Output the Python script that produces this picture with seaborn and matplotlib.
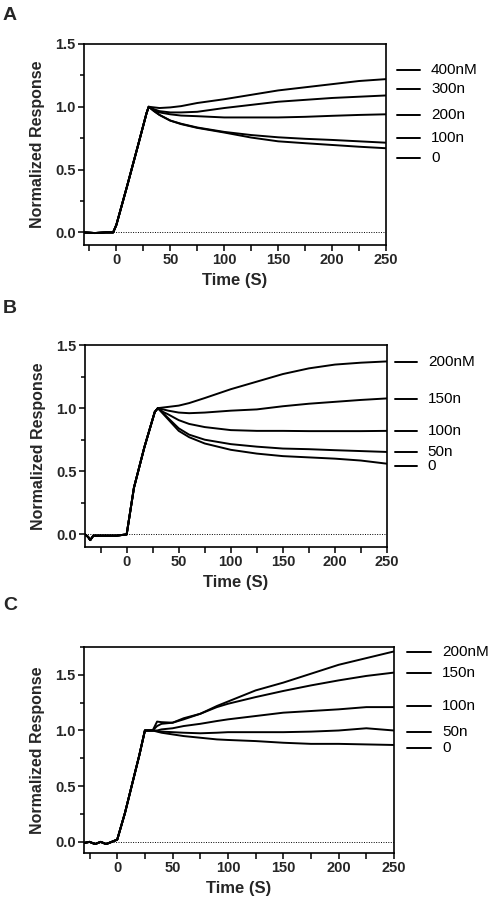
import numpy as np
import pandas as pd
import matplotlib.pyplot as plt
import matplotlib.transforms as mtransforms
from matplotlib.ticker import MultipleLocator
import seaborn as sns

sns.set_theme(style="ticks")
plt.rcParams['font.family'] = ['Liberation Sans', 'DejaVu Sans']

# ---------------- Panel A ----------------
A_labels = ['400nM', '300n', '200n', '100n', '0']
A_label_y = [1.29, 1.145, 0.935, 0.75, 0.59]
A_t_rise = [-30, -20, -10, -3, 0, 10, 20, 28, 30]
A_rise = [0.0, -0.005, 0.0, 0.0, 0.06, 0.37, 0.69, 0.95, 1.0]
A_t_diss = [30, 35, 40, 50, 60, 75, 100, 125, 150, 175, 200, 225, 250]
A_diss = {
    '400nM': [1.0, 0.995, 0.99, 0.995, 1.005, 1.03, 1.06, 1.095, 1.13, 1.155, 1.18, 1.205, 1.22],
    '300n': [1.0, 0.98, 0.965, 0.955, 0.955, 0.96, 0.99, 1.015, 1.04, 1.055, 1.07, 1.08, 1.09],
    '200n': [1.0, 0.97, 0.955, 0.94, 0.93, 0.925, 0.915, 0.915, 0.915, 0.92, 0.928, 0.935, 0.94],
    '100n': [1.0, 0.965, 0.935, 0.89, 0.865, 0.835, 0.80, 0.775, 0.757, 0.745, 0.736, 0.725, 0.714],
    '0': [1.0, 0.965, 0.935, 0.89, 0.862, 0.832, 0.795, 0.755, 0.725, 0.71, 0.696, 0.682, 0.67],
}

# ---------------- Panel B ----------------
B_labels = ['200nM', '150n', '100n', '50n', '0']
B_label_y = [1.365, 1.07, 0.817, 0.655, 0.545]
B_t_rise = [-40, -37, -35, -32, -25, -10, 0, 7, 17, 27, 30]
B_rise = [0.0, -0.02, -0.045, -0.01, -0.01, -0.01, 0.0, 0.37, 0.69, 0.97, 1.0]
B_t_diss = [30, 35, 40, 50, 60, 75, 100, 125, 150, 175, 200, 225, 250]
B_diss = {
    '200nM': [1.0, 1.005, 1.01, 1.02, 1.04, 1.08, 1.15, 1.21, 1.27, 1.315, 1.345, 1.36, 1.37],
    '150n': [1.0, 0.99, 0.98, 0.965, 0.96, 0.965, 0.98, 0.99, 1.015, 1.035, 1.05, 1.065, 1.077],
    '100n': [1.0, 0.97, 0.95, 0.905, 0.875, 0.85, 0.826, 0.82, 0.82, 0.818, 0.818, 0.818, 0.82],
    '50n': [1.0, 0.96, 0.92, 0.84, 0.79, 0.75, 0.715, 0.695, 0.68, 0.675, 0.667, 0.66, 0.653],
    '0': [1.0, 0.955, 0.91, 0.82, 0.77, 0.72, 0.67, 0.64, 0.62, 0.61, 0.60, 0.585, 0.56],
}

# ---------------- Panel C ----------------
C_labels = ['200nM', '150n', '100n', '50n', '0']
C_label_y = [1.705, 1.52, 1.22, 0.99, 0.84]
C_t_rise = [-30, -25, -20, -15, -10, -5, 0, 7, 15, 20, 25, 32]
C_rise = [-0.01, 0.0, -0.02, 0.0, -0.02, 0.0, 0.02, 0.26, 0.58, 0.78, 1.0, 1.0]
C_t_diss = [32, 36, 40, 50, 60, 75, 90, 100, 125, 150, 175, 200, 225, 250]
C_diss = {
    '200nM': [1.0, 1.08, 1.075, 1.07, 1.11, 1.15, 1.22, 1.26, 1.36, 1.43, 1.51, 1.59, 1.65, 1.71],
    '150n': [1.0, 1.04, 1.06, 1.07, 1.10, 1.15, 1.21, 1.24, 1.30, 1.355, 1.405, 1.45, 1.49, 1.52],
    '100n': [1.0, 1.0, 1.01, 1.02, 1.04, 1.06, 1.085, 1.10, 1.13, 1.16, 1.175, 1.19, 1.21, 1.21],
    '50n': [1.0, 0.995, 0.99, 0.985, 0.98, 0.975, 0.98, 0.985, 0.985, 0.985, 0.99, 1.0, 1.02, 1.0],
    '0': [1.0, 0.99, 0.98, 0.965, 0.95, 0.935, 0.92, 0.915, 0.905, 0.89, 0.88, 0.88, 0.875, 0.87],
}


def build_df(labels, t_rise, rise, t_diss, diss):
    rows = []
    for lab in labels:
        for t, v in zip(t_rise, rise):
            rows.append((lab, t, v))
        for t, v in zip(t_diss[1:], diss[lab][1:]):
            rows.append((lab, t, v))
    return pd.DataFrame(rows, columns=['conc', 'time', 'resp'])


fig = plt.figure(figsize=(4.98, 9.06), dpi=100)

panels = [
    ('A', 0.983, [0.1687, 0.7296, 0.6064, 0.2219], (-30, 250), (-0.1, 1.5),
     A_labels, A_label_y, A_t_rise, A_rise, A_t_diss, A_diss, (1.036, 1.113, 1.149)),
    ('B', 0.659, [0.1707, 0.3962, 0.6064, 0.2230], (-40, 250), (-0.1, 1.5),
     B_labels, B_label_y, B_t_rise, B_rise, B_t_diss, B_diss, (1.025, 1.10, 1.135)),
    ('C', 0.332, [0.1687, 0.0585, 0.6225, 0.2274], (-30, 250), (-0.1, 1.75),
     C_labels, C_label_y, C_t_rise, C_rise, C_t_diss, C_diss, (1.042, 1.119, 1.155)),
]

for (letter, ly, rect, xlim, ylim, labels, label_y, t_rise, rise, t_diss, diss, lx) in panels:
    ax = fig.add_axes(rect)
    df = build_df(labels, t_rise, rise, t_diss, diss)
    ax.axhline(0, color='black', ls=(0, (1, 1.5)), lw=0.7, zorder=1)
    sns.lineplot(data=df, x='time', y='resp', hue='conc', units='conc',
                 estimator=None, sort=False, palette=['black'] * len(labels),
                 lw=1.4, legend=False, ax=ax, zorder=3)
    ax.set_xlim(*xlim)
    ax.set_ylim(*ylim)
    ax.xaxis.set_major_locator(MultipleLocator(50))
    ax.xaxis.set_minor_locator(MultipleLocator(25))
    ax.yaxis.set_major_locator(MultipleLocator(0.5))
    ax.yaxis.set_minor_locator(MultipleLocator(0.25))
    ax.yaxis.set_major_formatter(plt.FormatStrFormatter('%.1f'))
    for s in ax.spines.values():
        s.set_linewidth(1.2)
        s.set_color('black')
    ax.tick_params(axis='both', which='major', direction='out', length=4,
                   width=1.1, color='black', labelsize=10.5, pad=2)
    ax.tick_params(axis='x', which='minor', direction='out', length=4,
                   width=1.1, color='black')
    ax.tick_params(axis='y', which='minor', direction='out', length=3,
                   width=1.1, color='black')
    for lab in ax.get_xticklabels() + ax.get_yticklabels():
        lab.set_fontweight('bold')
    ax.set_xlabel('Time (S)', fontsize=12, fontweight='bold', labelpad=4)
    ax.set_ylabel('Normalized Response', fontsize=11.5, fontweight='bold', labelpad=7)

    trans = mtransforms.blended_transform_factory(ax.transAxes, ax.transData)
    for lab, y in zip(labels, label_y):
        ax.plot([lx[0], lx[1]], [y, y], color='black', lw=1.4,
                transform=trans, clip_on=False)
        ax.text(lx[2], y, lab, transform=trans, fontsize=11,
                va='center', ha='left', color='black')

    fig.text(0.006, ly, letter, fontsize=14, fontweight='bold',
             va='center', ha='left')

fig.savefig('out.png', dpi=100)
